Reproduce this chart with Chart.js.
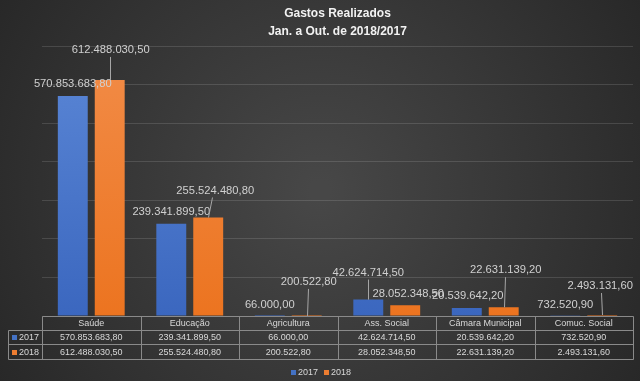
<!DOCTYPE html>
<html><head><meta charset="utf-8">
<script src="https://cdn.jsdelivr.net/npm/chart.js@4"></script>
<style>html,body{margin:0;padding:0;background:#303030;}#wrap{width:640px;height:381px;position:relative;}</style>
</head><body><div id="wrap"><canvas id="c"></canvas></div>
<script>
const categories = ['Saúde','Educação','Agricultura','Ass. Social','Câmara Municipal','Comuc. Social'];
const seriesNames = ['2017','2018'];
const values2017 = [570853683.80, 239341899.50, 66000.00, 42624714.50, 20539642.20, 732520.90];
const values2018 = [612488030.50, 255524480.80, 200522.80, 28052348.50, 22631139.20, 2493131.60];
const titleLines = ['Gastos Realizados','Jan. a Out. de 2018/2017'];
const yMax = 700000000;
const yStep = 100000000;

const FONT = '"Liberation Sans", Arial, sans-serif';
const TXT = '#d9d9d9';
const COLS = ['#4472c4','#ed7d31'];

function fmt(v){
  const neg = v < 0; v = Math.abs(v);
  const cents = Math.round(v*100);
  let ip = Math.floor(cents/100).toString();
  const dp = (cents%100).toString().padStart(2,'0');
  ip = ip.replace(/\B(?=(\d{3})+(?!\d))/g,'.');
  return (neg?'-':'')+ip+','+dp;
}

// label placement (offset from bar top, leader line flag)
const labelPos = [
  [[0,-12,false],[0,-12,false],[0,-11,false],[0,-27,true],[1,-12,false],[0,-11,false]],
  [[1,-30,true],[7,-27,true],[2,-34,true],[3,-11,false],[2,-37,true],[-2,-29,true]]
];

function grad(ctx, c1, c2){
  const ca = ctx.chart.chartArea;
  if(!ca) return c2;
  const g = ctx.chart.ctx.createLinearGradient(0, ca.top, 0, ca.bottom);
  g.addColorStop(0, c1); g.addColorStop(1, c2);
  return g;
}

const bgPlugin = {
  id:'bg',
  beforeDraw(chart){
    const {ctx,width,height} = chart;
    ctx.save();
    const g = ctx.createRadialGradient(width/2, height/2, 10, width/2, height/2, width*0.62);
    g.addColorStop(0,'#474747'); g.addColorStop(1,'#262626');
    ctx.fillStyle = g; ctx.fillRect(0,0,width,height);
    ctx.restore();
  }
};

const labelPlugin = {
  id:'labels',
  afterDatasetsDraw(chart){
    const ctx = chart.ctx;
    ctx.save();
    ctx.font = '11.2px '+FONT;
    ctx.textAlign='center'; ctx.textBaseline='middle';
    chart.data.datasets.forEach((ds, di)=>{
      const meta = chart.getDatasetMeta(di);
      meta.data.forEach((bar, i)=>{
        const [dx,dy,line] = labelPos[di][i];
        const lx = bar.x+dx, ly = bar.y+dy;
        if(line){
          ctx.strokeStyle='#a6a6a6'; ctx.lineWidth=1;
          ctx.beginPath(); ctx.moveTo(Math.round(lx - dx*0.5)+0.5, ly+7); ctx.lineTo(Math.round(bar.x)+0.5, bar.y); ctx.stroke();
        }
        ctx.fillStyle = '#d0d0d0';
        ctx.fillText(fmt(ds.data[i]), lx, ly);
      });
    });
    ctx.restore();
  }
};

const tablePlugin = {
  id:'table',
  afterDraw(chart){
    const ctx = chart.ctx, ca = chart.chartArea;
    const n = categories.length;
    const cw = (ca.right-ca.left)/n;
    const left = 8, top = Math.round(ca.bottom)+0.5;
    const rows = [top, top+14, top+28, top+43];
    const x0 = Math.round(ca.left)+0.5, x1 = Math.round(ca.right)+0.5;
    ctx.save();
    ctx.strokeStyle='#8a8a8a'; ctx.lineWidth=1;
    ctx.beginPath();
    ctx.moveTo(x0, rows[0]); ctx.lineTo(x1, rows[0]);
    for(let r=1;r<4;r++){ ctx.moveTo(left+0.5, rows[r]); ctx.lineTo(x1, rows[r]); }
    ctx.moveTo(left+0.5, rows[1]); ctx.lineTo(left+0.5, rows[3]);
    for(let c=0;c<=n;c++){
      const x = Math.round(ca.left + c*cw)+0.5;
      ctx.moveTo(x, rows[0]); ctx.lineTo(x, rows[3]);
    }
    ctx.stroke();
    ctx.font='9px '+FONT; ctx.fillStyle=TXT; ctx.textBaseline='middle'; ctx.textAlign='center';
    categories.forEach((c,i)=>{
      const cx = chart.scales.x.getPixelForValue(i);
      ctx.fillText(c, cx, (rows[0]+rows[1])/2+0.5);
      ctx.fillText(fmt(values2017[i]), cx, (rows[1]+rows[2])/2+0.5);
      ctx.fillText(fmt(values2018[i]), cx, (rows[2]+rows[3])/2+0.5);
    });
    seriesNames.forEach((s,k)=>{
      const cy = (rows[k+1]+rows[k+2])/2;
      ctx.fillStyle=COLS[k]; ctx.fillRect(12, Math.round(cy-2.5), 5, 5);
      ctx.fillStyle=TXT; ctx.textAlign='left';
      ctx.fillText(s, 19, cy+0.5);
    });
    // legend
    const ly = rows[3] + 13;
    const lx = [291, 324];
    seriesNames.forEach((s,k)=>{
      ctx.fillStyle=COLS[k]; ctx.fillRect(lx[k], Math.round(ly-2.5), 5, 5);
      ctx.fillStyle=TXT; ctx.textAlign='left';
      ctx.fillText(s, lx[k]+7, ly+0.5);
    });
    ctx.restore();
  }
};

new Chart(document.getElementById('c'), {
  type:'bar',
  data:{
    labels: categories,
    datasets:[
      {label:seriesNames[0], data:values2017,
       backgroundColor:(ctx)=>grad(ctx,'#5b87d6','#3b67bf')},
      {label:seriesNames[1], data:values2018,
       backgroundColor:(ctx)=>grad(ctx,'#f28c48','#ec7420')}
    ]
  },
  options:{
    responsive:true, maintainAspectRatio:false, animation:false,
    categoryPercentage:0.75, barPercentage:0.81,
    layout:{padding:{left:42,right:7,top:0,bottom:21}},
    plugins:{
      title:{display:true, text:titleLines, color:'#f2f2f2',
        font:{family:FONT, size:12, weight:'bold', lineHeight:1.55},
        padding:{top:4,bottom:5}},
      legend:{display:false},
      tooltip:{enabled:false}
    },
    scales:{
      x:{grid:{display:false}, border:{display:false}, ticks:{display:false},
         afterFit:(s)=>{ s.height = 44; }},
      y:{min:0, max:yMax, ticks:{display:false, stepSize:yStep}, border:{display:false},
         grid:{color:'rgba(255,255,255,0.13)', drawTicks:false}}
    }
  },
  plugins:[bgPlugin, labelPlugin, tablePlugin]
});
</script>
</body></html>
